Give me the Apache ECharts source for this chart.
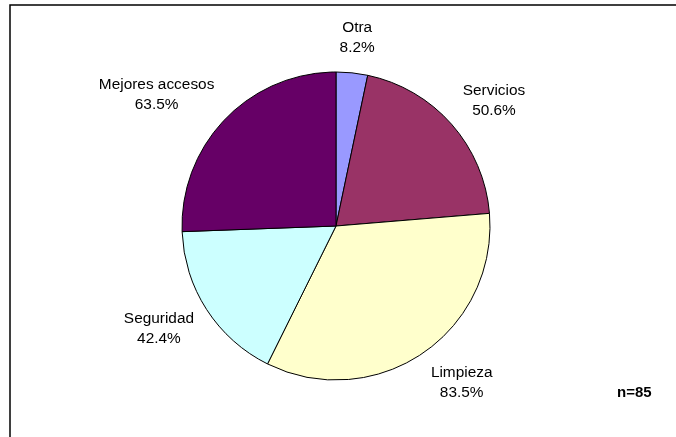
<!DOCTYPE html>
<html>
<head>
<meta charset="utf-8">
<script src="https://cdn.jsdelivr.net/npm/echarts@6/dist/echarts.min.js"></script>
<style>
  html, body { margin: 0; padding: 0; background: #fff; }
  #chart { width: 676px; height: 437px; }
</style>
</head>
<body>
<div id="chart"></div>
<script>
// Reasons given (multiple answers allowed), share of respondents
const categories = ['Otra', 'Servicios', 'Limpieza', 'Seguridad', 'Mejores accesos'];
const values = [8.2, 50.6, 83.5, 42.4, 63.5];
const sliceColors = ['#9999FF', '#993366', '#FFFFCC', '#CCFFFF', '#660066'];
const sampleNote = 'n=85';

const PIE_CENTER = [336, 226];
const PIE_RADIUS = 154;
const LABEL_GAP = 15;

const total = values.reduce((a, b) => a + b, 0);

// mid angle of a slice, clockwise from 12 o'clock, in radians
function midAngle(i) {
  let before = 0;
  for (let k = 0; k < i; k++) before += values[k];
  return ((before + values[i] / 2) / total) * 2 * Math.PI;
}

const chart = echarts.init(document.getElementById('chart'), null, { renderer: 'canvas' });

chart.setOption({
  animation: false,
  backgroundColor: '#ffffff',
  graphic: [
    {
      type: 'rect',
      shape: { x: 10, y: 5, width: 720, height: 500 },
      style: { fill: 'none', stroke: '#000', lineWidth: 1.5 },
      silent: true
    },
    {
      type: 'text',
      left: 617,
      top: 385,
      style: {
        text: sampleNote,
        font: 'bold 15px "Liberation Sans", Arial, sans-serif',
        fill: '#000'
      }
    }
  ],
  series: [{
    type: 'pie',
    center: PIE_CENTER,
    radius: PIE_RADIUS,
    startAngle: 90,
    clockwise: true,
    avoidLabelOverlap: false,
    data: categories.map((name, i) => ({
      name: name,
      value: values[i],
      itemStyle: { color: sliceColors[i] }
    })),
    itemStyle: { borderColor: '#000', borderWidth: 1 },
    emphasis: { disabled: true },
    label: {
      show: true,
      position: 'outside',
      formatter: p => p.name + '\n' + p.value + '%',
      fontFamily: '"Liberation Sans", Arial, sans-serif',
      fontSize: 15.4,
      lineHeight: 20,
      color: '#000',
      align: 'center'
    },
    labelLine: { show: false },
    // labels sit just outside the rim; the box is pushed sideways by
    // its half width so the text never runs back over the slice
    labelLayout: function (params) {
      const a = midAngle(params.dataIndex);
      const dx = Math.sin(a);
      const dy = -Math.cos(a);
      const w = params.labelRect.width;
      const h = params.labelRect.height;
      const side = Math.max(-1, Math.min(1, dx * 2));
      const d = PIE_RADIUS + LABEL_GAP;
      return {
        x: PIE_CENTER[0] + dx * d + side * w / 2,
        y: PIE_CENTER[1] + dy * d + dy * h / 2,
        align: 'center',
        verticalAlign: 'middle'
      };
    }
  }]
});
</script>
</body>
</html>
